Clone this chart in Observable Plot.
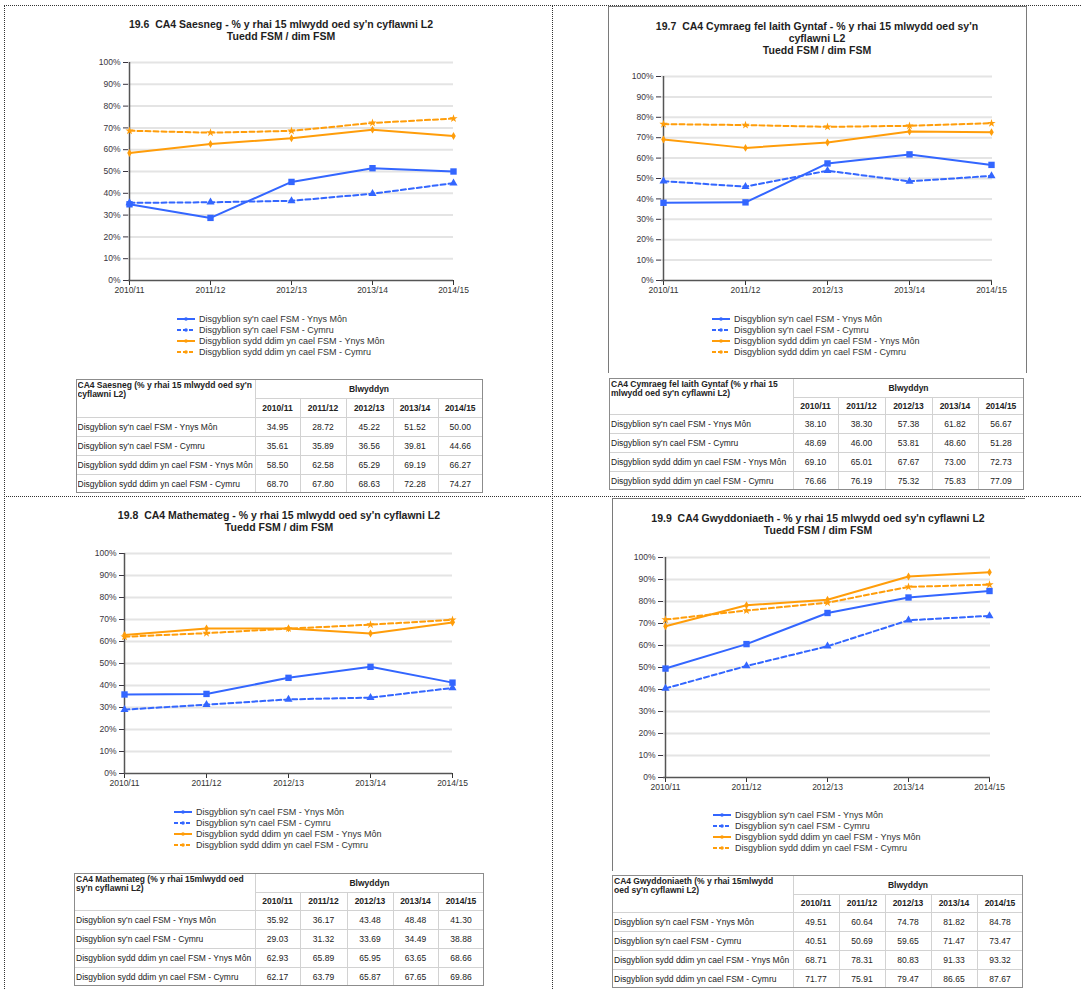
<!DOCTYPE html>
<html><head><meta charset="utf-8">
<script src="https://cdn.jsdelivr.net/npm/d3@7"></script>
<script src="https://cdn.jsdelivr.net/npm/@observablehq/plot@0.6"></script>
<style>
body{margin:0;background:#fff;font-family:"Liberation Sans",Arial,sans-serif;}
#root{position:relative;width:1081px;height:989px;overflow:hidden;background:#fff;}
.title{position:absolute;text-align:center;font-weight:bold;font-size:10.5px;line-height:12px;color:#1e1e1e;white-space:pre;}
.leg{position:absolute;display:flex;align-items:center;height:11px;font-size:9px;color:#333;white-space:nowrap;}
.leg svg{margin-right:4px;}
.cell{position:absolute;display:flex;align-items:center;font-size:8.5px;color:#222;white-space:nowrap;overflow:hidden;}
</style>
</head><body><div id="root"></div>
<script>
// ---------- data ----------
const years = ["2010/11","2011/12","2012/13","2013/14","2014/15"];
const seriesNames = [
  "Disgyblion sy'n cael FSM - Ynys Môn",
  "Disgyblion sy'n cael FSM - Cymru",
  "Disgyblion sydd ddim yn cael FSM - Ynys Môn",
  "Disgyblion sydd ddim yn cael FSM - Cymru"
];
const yTicks = [0,10,20,30,40,50,60,70,80,90,100];

const saesnegFsmMon = [34.95,28.72,45.22,51.52,50.00];
const saesnegFsmCymru = [35.61,35.89,36.56,39.81,44.66];
const saesnegNonMon = [58.50,62.58,65.29,69.19,66.27];
const saesnegNonCymru = [68.70,67.80,68.63,72.28,74.27];

const cymraegFsmMon = [38.10,38.30,57.38,61.82,56.67];
const cymraegFsmCymru = [48.69,46.00,53.81,48.60,51.28];
const cymraegNonMon = [69.10,65.01,67.67,73.00,72.73];
const cymraegNonCymru = [76.66,76.19,75.32,75.83,77.09];

const mathFsmMon = [35.92,36.17,43.48,48.48,41.30];
const mathFsmCymru = [29.03,31.32,33.69,34.49,38.88];
const mathNonMon = [62.93,65.89,65.95,63.65,68.66];
const mathNonCymru = [62.17,63.79,65.87,67.65,69.86];

const sciFsmMon = [49.51,60.64,74.78,81.82,84.78];
const sciFsmCymru = [40.51,50.69,59.65,71.47,73.47];
const sciNonMon = [68.71,78.31,80.83,91.33,93.32];
const sciNonCymru = [71.77,75.91,79.47,86.65,87.67];

const titles = [
  ["19.6  CA4 Saesneg - % y rhai 15 mlwydd oed sy'n cyflawni L2","Tuedd FSM / dim FSM"],
  ["19.7  CA4 Cymraeg fel Iaith Gyntaf - % y rhai 15 mlwydd oed sy'n","cyflawni L2","Tuedd FSM / dim FSM"],
  ["19.8  CA4 Mathemateg - % y rhai 15 mlwydd oed sy'n cyflawni L2","Tuedd FSM / dim FSM"],
  ["19.9  CA4 Gwyddoniaeth - % y rhai 15 mlwydd oed sy'n cyflawni L2","Tuedd FSM / dim FSM"]
];
const tableHeads = [
  ["CA4 Saesneg (% y rhai 15 mlwydd oed sy'n","cyflawni L2)"],
  ["CA4 Cymraeg fel Iaith Gyntaf (% y rhai 15","mlwydd oed sy'n cyflawni L2)"],
  ["CA4 Mathemateg (% y rhai 15mlwydd oed","sy'n cyflawni L2)"],
  ["CA4 Gwyddoniaeth (% y rhai 15mlwydd","oed sy'n cyflawni L2)"]
];
const yearHead = "Blwyddyn";

// ---------- styles ----------
const colors = ["#3366ff","#3366ff","#ff9d0a","#ff9d0a"];
const dashes = [null,"5,3",null,"5,3"];
const symbols = ["square","triangle","diamond","star"];
const radii = [3.6,3,2.4,2.6];

const root = document.getElementById("root");
function div(style, html){
  const d = document.createElement("div");
  Object.assign(d.style, style);
  if (html !== undefined) d.innerHTML = html;
  root.appendChild(d);
  return d;
}

// dotted separators
div({position:"absolute",left:"4px",top:"5px",width:"1077px",height:"0",borderTop:"1px dotted #333"});
div({position:"absolute",left:"4px",top:"496px",width:"1077px",height:"0",borderTop:"1px dotted #333"});
div({position:"absolute",left:"4px",top:"5px",width:"0",height:"984px",borderLeft:"1px dotted #333"});
div({position:"absolute",left:"552px",top:"5px",width:"0",height:"984px",borderLeft:"1px dotted #333"});

// frames of right-hand charts
div({position:"absolute",left:"608px",top:"6px",width:"417px",height:"366px",borderLeft:"1px solid #7a7a7a",borderTop:"1px solid #7a7a7a",borderRight:"1px solid #7a7a7a"});
div({position:"absolute",left:"612px",top:"498px",width:"412px",height:"372px",borderLeft:"1px solid #7a7a7a",borderTop:"1px solid #7a7a7a"});

const panels = [
  {values:[saesnegFsmMon,saesnegFsmCymru,saesnegNonMon,saesnegNonCymru], titleX:281, titleY:18,
   ax:128, lastX:453, y100:62, y0:280, legX:177, legY:319,
   tab:{left:75.5, top:379, cols:[179.5,45,46,46.5,45,45.5], rows:[19,19,19,19,19,19]}},
  {values:[cymraegFsmMon,cymraegFsmCymru,cymraegNonMon,cymraegNonCymru], titleX:817, titleY:20,
   ax:661, lastX:992, y100:76, y0:280, legX:712, legY:319,
   tab:{left:609, top:378, cols:[184,45,47,47,46,46], rows:[19,17,19,19,19,19]}},
  {values:[mathFsmMon,mathFsmCymru,mathNonMon,mathNonCymru], titleX:279, titleY:509,
   ax:124, lastX:452, y100:553, y0:773, legX:174, legY:812,
   tab:{left:74, top:873, cols:[181,45,47,46,45,46], rows:[19,18,19,19,19,19]}},
  {values:[sciFsmMon,sciFsmCymru,sciNonMon,sciNonCymru], titleX:818, titleY:512,
   ax:663, lastX:990, y100:557, y0:777, legX:713, legY:815,
   tab:{left:612, top:875, cols:[181,46,46,46,46,46], rows:[19,18,19,19,19,19]}}
];

const mL = 40, mR = 20, mT = 10, mB = 22;

panels.forEach((p, pi) => {
  // title
  const td = div({position:"absolute",left:(p.titleX-300)+"px",top:p.titleY+"px",width:"600px"});
  td.className = "title";
  td.textContent = titles[pi].join("\n");

  // chart
  const data = [];
  p.values.forEach((arr,i)=>arr.forEach((v,j)=>data.push({year:years[j], value:v, series:seriesNames[i], k:i})));
  const w = mL + (p.lastX - p.ax) + mR;
  const h = mT + (p.y0 - p.y100) + mB;
  const marks = [
    Plot.ruleY(yTicks.filter(t=>t>0), {y:d=>d, stroke:"#e4e4e4", strokeWidth:2}),
    Plot.axisY({ticks:yTicks, tickFormat:d=>d+"%", tickSize:5, tickPadding:3, color:"#3a3540", fontSize:8.5}),
    Plot.axisX({tickSize:5, tickPadding:1, color:"#333", fontSize:8.5}),
    Plot.ruleX([years[0]], {stroke:"#555", strokeWidth:1.5}),
    Plot.ruleY([0], {stroke:"#555", strokeWidth:1.5})
  ];
  seriesNames.forEach((s,i)=>{
    const sd = data.filter(d=>d.k===i);
    marks.push(Plot.line(sd, {x:"year", y:"value", stroke:colors[i], strokeWidth:2, strokeDasharray:dashes[i]}));
  });
  seriesNames.forEach((s,i)=>{
    const sd = data.filter(d=>d.k===i);
    marks.push(Plot.dot(sd, {x:"year", y:"value", symbol:()=>symbols[i], fill:colors[i], stroke:"none", r:radii[i]}));
  });
  const svg = Plot.plot({
    width:w, height:h, marginLeft:mL, marginRight:mR, marginTop:mT, marginBottom:mB,
    style:{fontFamily:"'Liberation Sans', Arial, sans-serif", fontSize:"8.5px", background:"transparent", overflow:"visible"},
    x:{type:"point", domain:years, padding:0, label:null},
    y:{domain:[0,100], label:null},
    symbol:{type:"identity"},
    marks
  });
  svg.style.position = "absolute";
  svg.style.left = (p.ax - mL) + "px";
  svg.style.top = (p.y100 - mT) + "px";
  root.appendChild(svg);

  // legend
  seriesNames.forEach((s,i)=>{
    const d = div({left:p.legX+"px", top:(p.legY + i*11 - 5.5)+"px"});
    d.className = "leg";
    const dash = dashes[i] ? `stroke-dasharray="4,2"` : "";
    d.innerHTML = `<svg width="18" height="8"><line x1="0" x2="18" y1="4" y2="4" stroke="${colors[i]}" stroke-width="2" ${dash}/><circle cx="9" cy="4" r="1.8" fill="${colors[i]}"/></svg><span></span>`;
    d.querySelector("span").textContent = s;
  });

  // table
  const t = p.tab;
  const xs = [0]; t.cols.forEach(c=>xs.push(xs[xs.length-1]+c));
  const ys = [0]; t.rows.forEach(r=>ys.push(ys[ys.length-1]+r));
  const W = xs[xs.length-1], H = ys[ys.length-1];
  const X = v => (t.left + v) + "px", Y = v => (t.top + v) + "px";
  const inner = "#d2d2d2";
  div({position:"absolute",left:X(xs[1]),top:Y(0),width:"0",height:H+"px",borderLeft:"1.5px solid "+inner});
  for (let c=2;c<xs.length-1;c++) div({position:"absolute",left:X(xs[c]),top:Y(ys[1]),width:"0",height:(H-ys[1])+"px",borderLeft:"1.5px solid "+inner});
  div({position:"absolute",left:X(xs[1]),top:Y(ys[1]),width:(W-xs[1])+"px",height:"0",borderTop:"1.5px solid "+inner});
  for (let r=2;r<ys.length-1;r++) div({position:"absolute",left:X(0),top:Y(ys[r]),width:W+"px",height:"0",borderTop:"1.5px solid "+inner});
  div({position:"absolute",left:X(0),top:Y(0),width:W+"px",height:H+"px",border:"1.5px solid #8c8c8c",boxSizing:"border-box"});
  const hd = div({left:X(2),top:Y(2),width:(t.cols[0]-3)+"px",height:(ys[2]-3)+"px",fontWeight:"bold",lineHeight:"8.5px",display:"block",whiteSpace:"pre"});
  hd.className="cell"; hd.textContent = tableHeads[pi].join("\n");
  const hc = div({left:X(xs[1]),top:Y(0),width:(W-xs[1])+"px",height:t.rows[0]+"px",justifyContent:"center",fontWeight:"bold"}, yearHead); hc.className="cell";
  years.forEach((yr,j)=>{
    const c = div({left:X(xs[j+1]),top:Y(ys[1]),width:t.cols[j+1]+"px",height:t.rows[1]+"px",justifyContent:"center",fontWeight:"bold"}, yr); c.className="cell";
  });
  seriesNames.forEach((s,i)=>{
    const lc = div({left:X(2),top:Y(ys[i+2]),width:(t.cols[0]-2)+"px",height:t.rows[i+2]+"px"}); lc.className="cell"; lc.textContent = s;
    p.values[i].forEach((v,j)=>{
      const c = div({left:X(xs[j+1]),top:Y(ys[i+2]),width:t.cols[j+1]+"px",height:t.rows[i+2]+"px",justifyContent:"center"}, v.toFixed(2)); c.className="cell";
    });
  });
});
</script>
</body></html>
